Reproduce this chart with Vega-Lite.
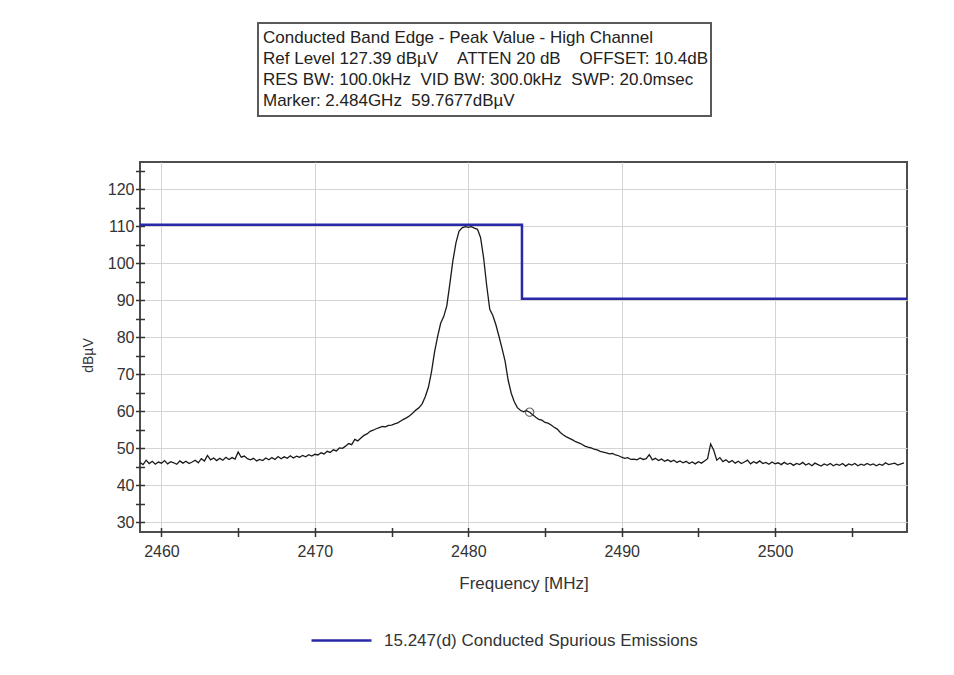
{
  "$schema": "https://vega.github.io/schema/vega-lite/v6.json",
  "autosize": {"type": "pad"},
  "padding": {"left": 80, "top": 22, "right": 10, "bottom": 10},
  "background": "white",
  "config": {
    "font": "Liberation Sans",
    "view": {"stroke": null},
    "axis": {"labelFont": "Liberation Sans", "titleFont": "Liberation Sans", "labelColor": "#333333", "titleColor": "#333333", "titleFontWeight": "normal"},
    "legend": {"labelFont": "Liberation Sans"}
  },
  "datasets": {
    "header": [
      {"line": 1, "text": "Conducted Band Edge - Peak Value - High Channel"},
      {"line": 2, "text": "Ref Level 127.39 dBµV\u00a0\u00a0\u00a0\u00a0ATTEN 20 dB\u00a0\u00a0\u00a0\u00a0OFFSET: 10.4dB"},
      {"line": 3, "text": "RES BW: 100.0kHz\u00a0\u00a0VID BW: 300.0kHz\u00a0\u00a0SWP: 20.0msec"},
      {"line": 4, "text": "Marker: 2.484GHz\u00a0\u00a059.7677dBµV"}
    ],
    "limit": [
      {"seq": 1, "freq": 2458.6, "level": 110.4, "series": "15.247(d) Conducted Spurious Emissions"},
      {"seq": 2, "freq": 2483.5, "level": 110.4, "series": "15.247(d) Conducted Spurious Emissions"},
      {"seq": 3, "freq": 2483.5, "level": 90.4, "series": "15.247(d) Conducted Spurious Emissions"},
      {"seq": 4, "freq": 2508.6, "level": 90.4, "series": "15.247(d) Conducted Spurious Emissions"}
    ],
    "marker": [
      {"freq": 2484.0, "level": 59.7677}
    ],
    "trace": [
      {"freq": 2458.6, "level": 46.2}, {"freq": 2458.8, "level": 45.6}, {"freq": 2459.0, "level": 46.8}, {"freq": 2459.2, "level": 45.9},
      {"freq": 2459.4, "level": 46.5}, {"freq": 2459.6, "level": 45.7}, {"freq": 2459.8, "level": 46.3}, {"freq": 2460.0, "level": 46.0},
      {"freq": 2460.2, "level": 46.7}, {"freq": 2460.4, "level": 45.8}, {"freq": 2460.6, "level": 46.4}, {"freq": 2460.8, "level": 46.1},
      {"freq": 2461.0, "level": 45.7}, {"freq": 2461.2, "level": 46.6}, {"freq": 2461.4, "level": 46.0}, {"freq": 2461.6, "level": 46.5},
      {"freq": 2461.8, "level": 45.9}, {"freq": 2462.0, "level": 46.3}, {"freq": 2462.2, "level": 46.8}, {"freq": 2462.4, "level": 46.1},
      {"freq": 2462.6, "level": 47.2}, {"freq": 2462.8, "level": 46.6}, {"freq": 2463.0, "level": 48.1}, {"freq": 2463.2, "level": 46.9},
      {"freq": 2463.4, "level": 47.4}, {"freq": 2463.6, "level": 46.7}, {"freq": 2463.8, "level": 47.3}, {"freq": 2464.0, "level": 46.8},
      {"freq": 2464.2, "level": 47.6}, {"freq": 2464.4, "level": 47.0}, {"freq": 2464.6, "level": 47.5}, {"freq": 2464.8, "level": 47.1},
      {"freq": 2465.0, "level": 49.0}, {"freq": 2465.2, "level": 47.6}, {"freq": 2465.4, "level": 47.9}, {"freq": 2465.6, "level": 47.2},
      {"freq": 2465.8, "level": 46.9}, {"freq": 2466.0, "level": 47.3}, {"freq": 2466.2, "level": 46.6}, {"freq": 2466.4, "level": 47.0},
      {"freq": 2466.6, "level": 46.7}, {"freq": 2466.8, "level": 47.4}, {"freq": 2467.0, "level": 46.9}, {"freq": 2467.2, "level": 47.5},
      {"freq": 2467.4, "level": 47.0}, {"freq": 2467.6, "level": 47.8}, {"freq": 2467.8, "level": 47.2}, {"freq": 2468.0, "level": 47.7},
      {"freq": 2468.2, "level": 47.3}, {"freq": 2468.4, "level": 48.0}, {"freq": 2468.6, "level": 47.4}, {"freq": 2468.8, "level": 47.9},
      {"freq": 2469.0, "level": 47.6}, {"freq": 2469.2, "level": 48.1}, {"freq": 2469.4, "level": 47.7}, {"freq": 2469.6, "level": 48.3},
      {"freq": 2469.8, "level": 47.9}, {"freq": 2470.0, "level": 48.4}, {"freq": 2470.2, "level": 48.2}, {"freq": 2470.4, "level": 48.8},
      {"freq": 2470.6, "level": 48.5}, {"freq": 2470.8, "level": 49.2}, {"freq": 2471.0, "level": 48.9}, {"freq": 2471.2, "level": 49.6},
      {"freq": 2471.4, "level": 49.3}, {"freq": 2471.6, "level": 50.1}, {"freq": 2471.8, "level": 50.0}, {"freq": 2472.0, "level": 50.6},
      {"freq": 2472.2, "level": 51.3}, {"freq": 2472.4, "level": 51.0}, {"freq": 2472.6, "level": 52.4}, {"freq": 2472.8, "level": 52.0},
      {"freq": 2473.0, "level": 52.8}, {"freq": 2473.2, "level": 53.5}, {"freq": 2473.4, "level": 53.9}, {"freq": 2473.6, "level": 54.6},
      {"freq": 2473.8, "level": 54.9}, {"freq": 2474.0, "level": 55.3}, {"freq": 2474.2, "level": 55.6}, {"freq": 2474.4, "level": 55.9},
      {"freq": 2474.6, "level": 55.8}, {"freq": 2474.8, "level": 56.2}, {"freq": 2475.0, "level": 56.3}, {"freq": 2475.2, "level": 56.6},
      {"freq": 2475.4, "level": 56.9}, {"freq": 2475.6, "level": 57.4}, {"freq": 2475.8, "level": 57.9}, {"freq": 2476.0, "level": 58.3},
      {"freq": 2476.2, "level": 58.9}, {"freq": 2476.4, "level": 59.6}, {"freq": 2476.6, "level": 60.4}, {"freq": 2476.8, "level": 61.0},
      {"freq": 2477.0, "level": 62.1}, {"freq": 2477.2, "level": 64.0}, {"freq": 2477.4, "level": 66.5}, {"freq": 2477.6, "level": 70.6},
      {"freq": 2477.8, "level": 76.0}, {"freq": 2478.0, "level": 80.2}, {"freq": 2478.2, "level": 83.8}, {"freq": 2478.4, "level": 85.6},
      {"freq": 2478.6, "level": 88.5}, {"freq": 2478.8, "level": 94.5}, {"freq": 2479.0, "level": 100.8}, {"freq": 2479.2, "level": 105.6},
      {"freq": 2479.4, "level": 108.7}, {"freq": 2479.6, "level": 109.6}, {"freq": 2479.8, "level": 109.9}, {"freq": 2480.0, "level": 109.7},
      {"freq": 2480.2, "level": 109.9}, {"freq": 2480.4, "level": 109.5}, {"freq": 2480.6, "level": 109.2}, {"freq": 2480.8, "level": 107.0},
      {"freq": 2481.0, "level": 101.5}, {"freq": 2481.2, "level": 94.0}, {"freq": 2481.4, "level": 87.6}, {"freq": 2481.6, "level": 85.9},
      {"freq": 2481.8, "level": 83.4}, {"freq": 2482.0, "level": 80.3}, {"freq": 2482.2, "level": 77.0}, {"freq": 2482.4, "level": 73.6},
      {"freq": 2482.6, "level": 68.4}, {"freq": 2482.8, "level": 64.9}, {"freq": 2483.0, "level": 62.6}, {"freq": 2483.2, "level": 61.0},
      {"freq": 2483.4, "level": 60.3}, {"freq": 2483.6, "level": 59.9}, {"freq": 2483.8, "level": 60.2}, {"freq": 2484.0, "level": 59.77},
      {"freq": 2484.2, "level": 59.1}, {"freq": 2484.4, "level": 58.4}, {"freq": 2484.6, "level": 57.8}, {"freq": 2484.8, "level": 57.6},
      {"freq": 2485.0, "level": 57.0}, {"freq": 2485.2, "level": 56.8}, {"freq": 2485.4, "level": 56.3}, {"freq": 2485.6, "level": 55.7},
      {"freq": 2485.8, "level": 55.2}, {"freq": 2486.0, "level": 54.3}, {"freq": 2486.2, "level": 53.6}, {"freq": 2486.4, "level": 53.1},
      {"freq": 2486.6, "level": 52.7}, {"freq": 2486.8, "level": 52.3}, {"freq": 2487.0, "level": 51.8}, {"freq": 2487.2, "level": 51.5},
      {"freq": 2487.4, "level": 51.1}, {"freq": 2487.6, "level": 50.6}, {"freq": 2487.8, "level": 50.3}, {"freq": 2488.0, "level": 50.1},
      {"freq": 2488.2, "level": 49.8}, {"freq": 2488.4, "level": 49.6}, {"freq": 2488.6, "level": 49.2}, {"freq": 2488.8, "level": 49.0},
      {"freq": 2489.0, "level": 48.8}, {"freq": 2489.2, "level": 48.5}, {"freq": 2489.4, "level": 48.6}, {"freq": 2489.6, "level": 48.2},
      {"freq": 2489.8, "level": 48.0}, {"freq": 2490.0, "level": 47.6}, {"freq": 2490.2, "level": 47.3}, {"freq": 2490.4, "level": 47.5},
      {"freq": 2490.6, "level": 47.0}, {"freq": 2490.8, "level": 47.1}, {"freq": 2491.0, "level": 46.9}, {"freq": 2491.2, "level": 47.4},
      {"freq": 2491.4, "level": 47.0}, {"freq": 2491.6, "level": 47.2}, {"freq": 2491.8, "level": 48.3}, {"freq": 2492.0, "level": 46.9},
      {"freq": 2492.2, "level": 47.3}, {"freq": 2492.4, "level": 46.7}, {"freq": 2492.6, "level": 47.1}, {"freq": 2492.8, "level": 46.5},
      {"freq": 2493.0, "level": 46.9}, {"freq": 2493.2, "level": 46.4}, {"freq": 2493.4, "level": 46.8}, {"freq": 2493.6, "level": 46.2},
      {"freq": 2493.8, "level": 46.6}, {"freq": 2494.0, "level": 46.1}, {"freq": 2494.2, "level": 46.5}, {"freq": 2494.4, "level": 45.9},
      {"freq": 2494.6, "level": 46.3}, {"freq": 2494.8, "level": 45.8}, {"freq": 2495.0, "level": 46.4}, {"freq": 2495.2, "level": 46.0},
      {"freq": 2495.4, "level": 46.6}, {"freq": 2495.6, "level": 47.2}, {"freq": 2495.8, "level": 51.2}, {"freq": 2496.0, "level": 49.5},
      {"freq": 2496.2, "level": 46.8}, {"freq": 2496.4, "level": 47.5}, {"freq": 2496.6, "level": 46.4}, {"freq": 2496.8, "level": 46.9},
      {"freq": 2497.0, "level": 46.2}, {"freq": 2497.2, "level": 46.7}, {"freq": 2497.4, "level": 46.0}, {"freq": 2497.6, "level": 46.5},
      {"freq": 2497.8, "level": 45.9}, {"freq": 2498.0, "level": 46.3}, {"freq": 2498.2, "level": 46.8}, {"freq": 2498.4, "level": 45.8},
      {"freq": 2498.6, "level": 46.4}, {"freq": 2498.8, "level": 46.0}, {"freq": 2499.0, "level": 46.6}, {"freq": 2499.2, "level": 45.9},
      {"freq": 2499.4, "level": 46.2}, {"freq": 2499.6, "level": 45.7}, {"freq": 2499.8, "level": 46.3}, {"freq": 2500.0, "level": 45.8},
      {"freq": 2500.2, "level": 46.1}, {"freq": 2500.4, "level": 45.6}, {"freq": 2500.6, "level": 46.2}, {"freq": 2500.8, "level": 45.7},
      {"freq": 2501.0, "level": 46.0}, {"freq": 2501.2, "level": 45.4}, {"freq": 2501.4, "level": 45.9}, {"freq": 2501.6, "level": 45.6},
      {"freq": 2501.8, "level": 46.2}, {"freq": 2502.0, "level": 45.5}, {"freq": 2502.2, "level": 45.9}, {"freq": 2502.4, "level": 45.3},
      {"freq": 2502.6, "level": 46.0}, {"freq": 2502.8, "level": 45.6}, {"freq": 2503.0, "level": 45.2}, {"freq": 2503.2, "level": 45.8},
      {"freq": 2503.4, "level": 45.4}, {"freq": 2503.6, "level": 45.9}, {"freq": 2503.8, "level": 45.3}, {"freq": 2504.0, "level": 45.7},
      {"freq": 2504.2, "level": 45.4}, {"freq": 2504.4, "level": 45.9}, {"freq": 2504.6, "level": 45.2}, {"freq": 2504.8, "level": 45.8},
      {"freq": 2505.0, "level": 45.5}, {"freq": 2505.2, "level": 45.9}, {"freq": 2505.4, "level": 45.3}, {"freq": 2505.6, "level": 45.7},
      {"freq": 2505.8, "level": 45.4}, {"freq": 2506.0, "level": 45.9}, {"freq": 2506.2, "level": 45.5}, {"freq": 2506.4, "level": 45.8},
      {"freq": 2506.6, "level": 45.3}, {"freq": 2506.8, "level": 45.7}, {"freq": 2507.0, "level": 45.4}, {"freq": 2507.2, "level": 46.1},
      {"freq": 2507.4, "level": 45.6}, {"freq": 2507.8, "level": 46.0}, {"freq": 2508.0, "level": 45.5}, {"freq": 2508.4, "level": 46.1}
    ]
  },
  "vconcat": [
    {
      "hconcat": [
        {
          "data": {"values": []},
          "width": 98,
          "height": 93,
          "mark": "text",
          "encoding": {}
        },
        {
          "data": {"name": "header"},
          "width": 453,
          "height": 93,
          "view": {"stroke": "#5a5a5a", "strokeWidth": 2},
          "mark": {"type": "text", "align": "left", "baseline": "middle", "dx": 5, "fontSize": 17, "color": "#222222", "font": "Liberation Sans"},
          "encoding": {
            "x": {"datum": 0, "type": "quantitative", "scale": {"domain": [0, 1]}, "axis": null},
            "y": {"field": "line", "type": "ordinal", "axis": null, "scale": {"padding": 0.714}},
            "text": {"field": "text"}
          }
        }
      ],
      "spacing": 20,
      "bounds": "flush"
    },
    {
      "width": 767,
      "height": 370,
      "view": {"stroke": "#4d4d4d", "strokeWidth": 2},
      "layer": [
        {
          "data": {"name": "trace"},
          "mark": {"type": "line", "color": "#1a1a1a", "strokeWidth": 1.3},
          "encoding": {
            "x": {
              "field": "freq", "type": "quantitative",
              "scale": {"domain": [2458.6, 2508.6], "nice": false, "zero": false},
              "axis": {"title": "Frequency [MHz]", "values": [2460, 2470, 2480, 2490, 2500], "format": "d", "grid": true, "gridColor": "#d4d4d4", "ticks": false, "domain": false, "labelPadding": 11, "labelFontSize": 16, "titleFontSize": 17, "titlePadding": 16}
            },
            "y": {
              "field": "level", "type": "quantitative",
              "scale": {"domain": [27.39, 127.39], "nice": false, "zero": false},
              "axis": {"title": "dBµV", "values": [30, 40, 50, 60, 70, 80, 90, 100, 110, 120], "grid": true, "gridColor": "#d4d4d4", "ticks": false, "domain": false, "labelPadding": 6, "labelFontSize": 16, "titleFontSize": 14, "titlePadding": 12, "titleY": 193}
            }
          }
        },
        {
          "data": {"name": "limit"},
          "mark": {"type": "line", "strokeWidth": 2.5},
          "encoding": {
            "x": {
              "field": "freq", "type": "quantitative",
              "scale": {"domain": [2458.6, 2508.6], "nice": false, "zero": false},
              "axis": {"orient": "bottom", "values": [2460, 2465, 2470, 2475, 2480, 2485, 2490, 2495, 2500, 2505], "labels": false, "title": null, "grid": false, "domain": false, "ticks": true, "tickSize": 9, "offset": -4.5, "tickColor": "#333333", "tickWidth": 1.5}
            },
            "y": {
              "field": "level", "type": "quantitative",
              "scale": {"domain": [27.39, 127.39], "nice": false, "zero": false},
              "axis": {"orient": "left", "values": [30, 35, 40, 45, 50, 55, 60, 65, 70, 75, 80, 85, 90, 95, 100, 105, 110, 115, 120, 125], "labels": false, "title": null, "grid": false, "domain": false, "ticks": true, "tickSize": 9, "offset": -4.5, "tickColor": "#333333", "tickWidth": 1.5}
            },
            "order": {"field": "seq", "type": "quantitative"},
            "color": {
              "field": "series", "type": "nominal",
              "scale": {"range": ["#2828a8"]},
              "legend": {"orient": "none", "legendX": 170, "legendY": 586, "title": null, "symbolType": "stroke", "symbolSize": 3600, "symbolStrokeWidth": 2.5, "labelFontSize": 17, "labelOffset": 11, "labelColor": "#333333", "labelLimit": 600}
            }
          }
        },
        {
          "data": {"name": "marker"},
          "mark": {"type": "point", "filled": false, "size": 70, "color": "#333333", "strokeWidth": 1.2},
          "encoding": {
            "x": {"field": "freq", "type": "quantitative", "scale": {"domain": [2458.6, 2508.6], "nice": false, "zero": false}, "axis": null},
            "y": {"field": "level", "type": "quantitative", "scale": {"domain": [27.39, 127.39], "nice": false, "zero": false}, "axis": null}
          }
        }
      ],
      "resolve": {"axis": {"x": "independent", "y": "independent"}}
    }
  ],
  "spacing": 139,
  "bounds": "flush"
}
